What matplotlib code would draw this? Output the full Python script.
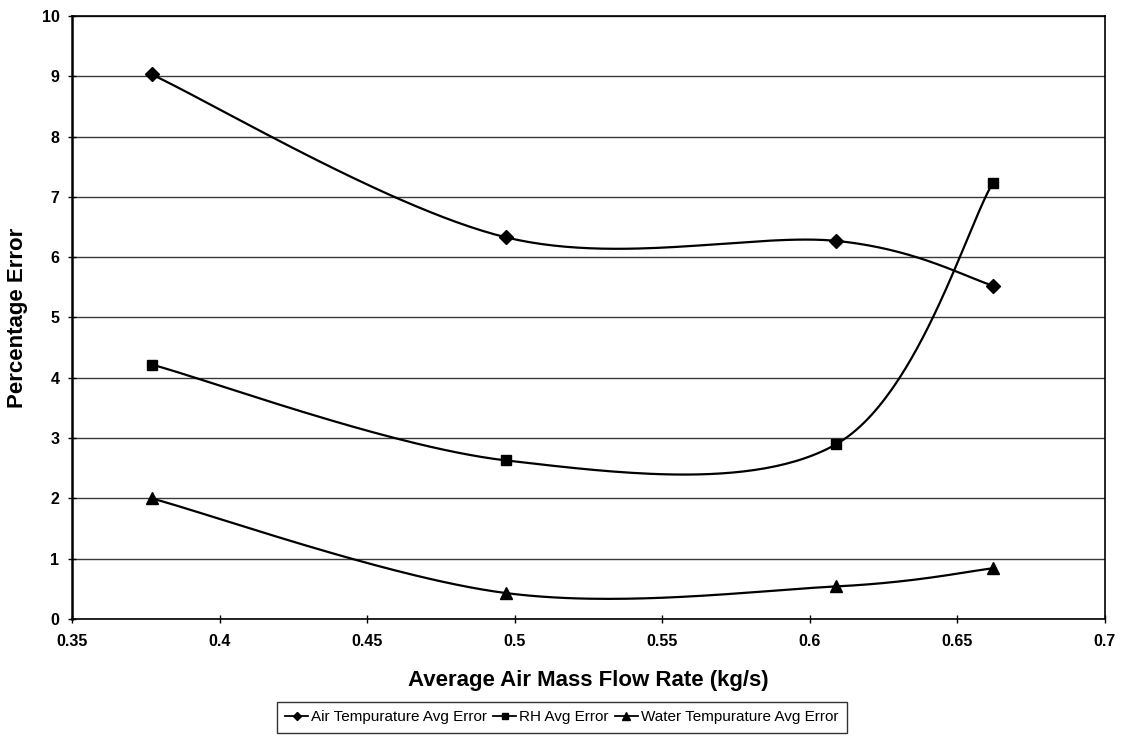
import numpy as np
import matplotlib
matplotlib.use("Agg")
import matplotlib.pyplot as plt

flow_rate = [0.377, 0.497, 0.609, 0.662]
air_temp_err = [9.03, 6.33, 6.27, 5.53]
rh_err = [4.22, 2.63, 2.90, 7.23]
water_temp_err = [2.00, 0.43, 0.54, 0.84]

series_labels = ["Air Tempurature Avg Error", "RH Avg Error", "Water Tempurature Avg Error"]
x_ticks = [0.35, 0.4, 0.45, 0.5, 0.55, 0.6, 0.65, 0.7]
x_tick_labels = ["0.35", "0.4", "0.45", "0.5", "0.55", "0.6", "0.65", "0.7"]
y_ticks = list(range(0, 11))


def smooth_curve(xs, ys, n=60):
    """Cubic Bezier smoothing through every point (control points from neighbours / 6)."""
    p = np.column_stack([xs, ys]).astype(float)
    ext = np.vstack([p[0], p, p[-1]])
    out = []
    t = np.linspace(0, 1, n)[:, None]
    for i in range(len(p) - 1):
        p0, p1, p2, p3 = ext[i], ext[i + 1], ext[i + 2], ext[i + 3]
        c1 = p1 + (p2 - p0) / 6.0
        c2 = p2 - (p3 - p1) / 6.0
        seg = ((1 - t) ** 3) * p1 + 3 * ((1 - t) ** 2) * t * c1 + 3 * (1 - t) * t ** 2 * c2 + t ** 3 * p2
        out.append(seg if i == 0 else seg[1:])
    out = np.vstack(out)
    return out[:, 0], out[:, 1]


plt.rcParams["font.family"] = ["Liberation Sans", "DejaVu Sans"]

fig = plt.figure(figsize=(11.26, 7.51), dpi=100)
ax = fig.add_axes([0.0639, 0.1758, 0.9174, 0.8029])

styles = [("D", 7), ("s", 7), ("^", 8)]
handles = []
for ys, label, (mk, ms) in zip([air_temp_err, rh_err, water_temp_err], series_labels, styles):
    sx, sy = smooth_curve(flow_rate, ys)
    ax.plot(sx, sy, color="black", lw=1.6, zorder=3)
    ax.plot(flow_rate, ys, linestyle="none", marker=mk, ms=ms, color="black", zorder=4)
    h, = ax.plot([], [], color="black", lw=1.3, marker=mk, ms=ms * 0.65, label=label)
    handles.append(h)

ax.set_xlim(0.35, 0.7)
ax.set_ylim(0, 10)
ax.set_xticks(x_ticks)
ax.set_xticklabels(x_tick_labels)
ax.set_yticks(y_ticks)
ax.yaxis.grid(True, color="#3a3a3a", lw=1.0)
ax.set_axisbelow(True)

for side in ["left", "bottom", "right", "top"]:
    ax.spines[side].set_color("black")
    ax.spines[side].set_linewidth(1.2)
ax.spines["left"].set_linewidth(1.8)

ax.tick_params(axis="both", direction="inout", length=6, width=1, labelsize=11.5, colors="black")
for lbl in ax.get_xticklabels() + ax.get_yticklabels():
    lbl.set_fontweight("bold")
ax.tick_params(axis="x", pad=8)
ax.tick_params(axis="y", pad=6)

ax.set_xlabel("Average Air Mass Flow Rate (kg/s)", fontsize=16, fontweight="bold", labelpad=15)
ax.set_ylabel("Percentage Error", fontsize=16, fontweight="bold", labelpad=10)

leg = fig.legend(handles=handles, loc="center", bbox_to_anchor=(0.499, 0.045), ncol=3,
                 fontsize=11, frameon=True, fancybox=False, edgecolor="black",
                 handlelength=1.5, handletextpad=0.2, columnspacing=0.4,
                 borderpad=0.55, borderaxespad=0)
leg.get_frame().set_linewidth(1.0)

fig.savefig("out.png", dpi=100, facecolor="white")
